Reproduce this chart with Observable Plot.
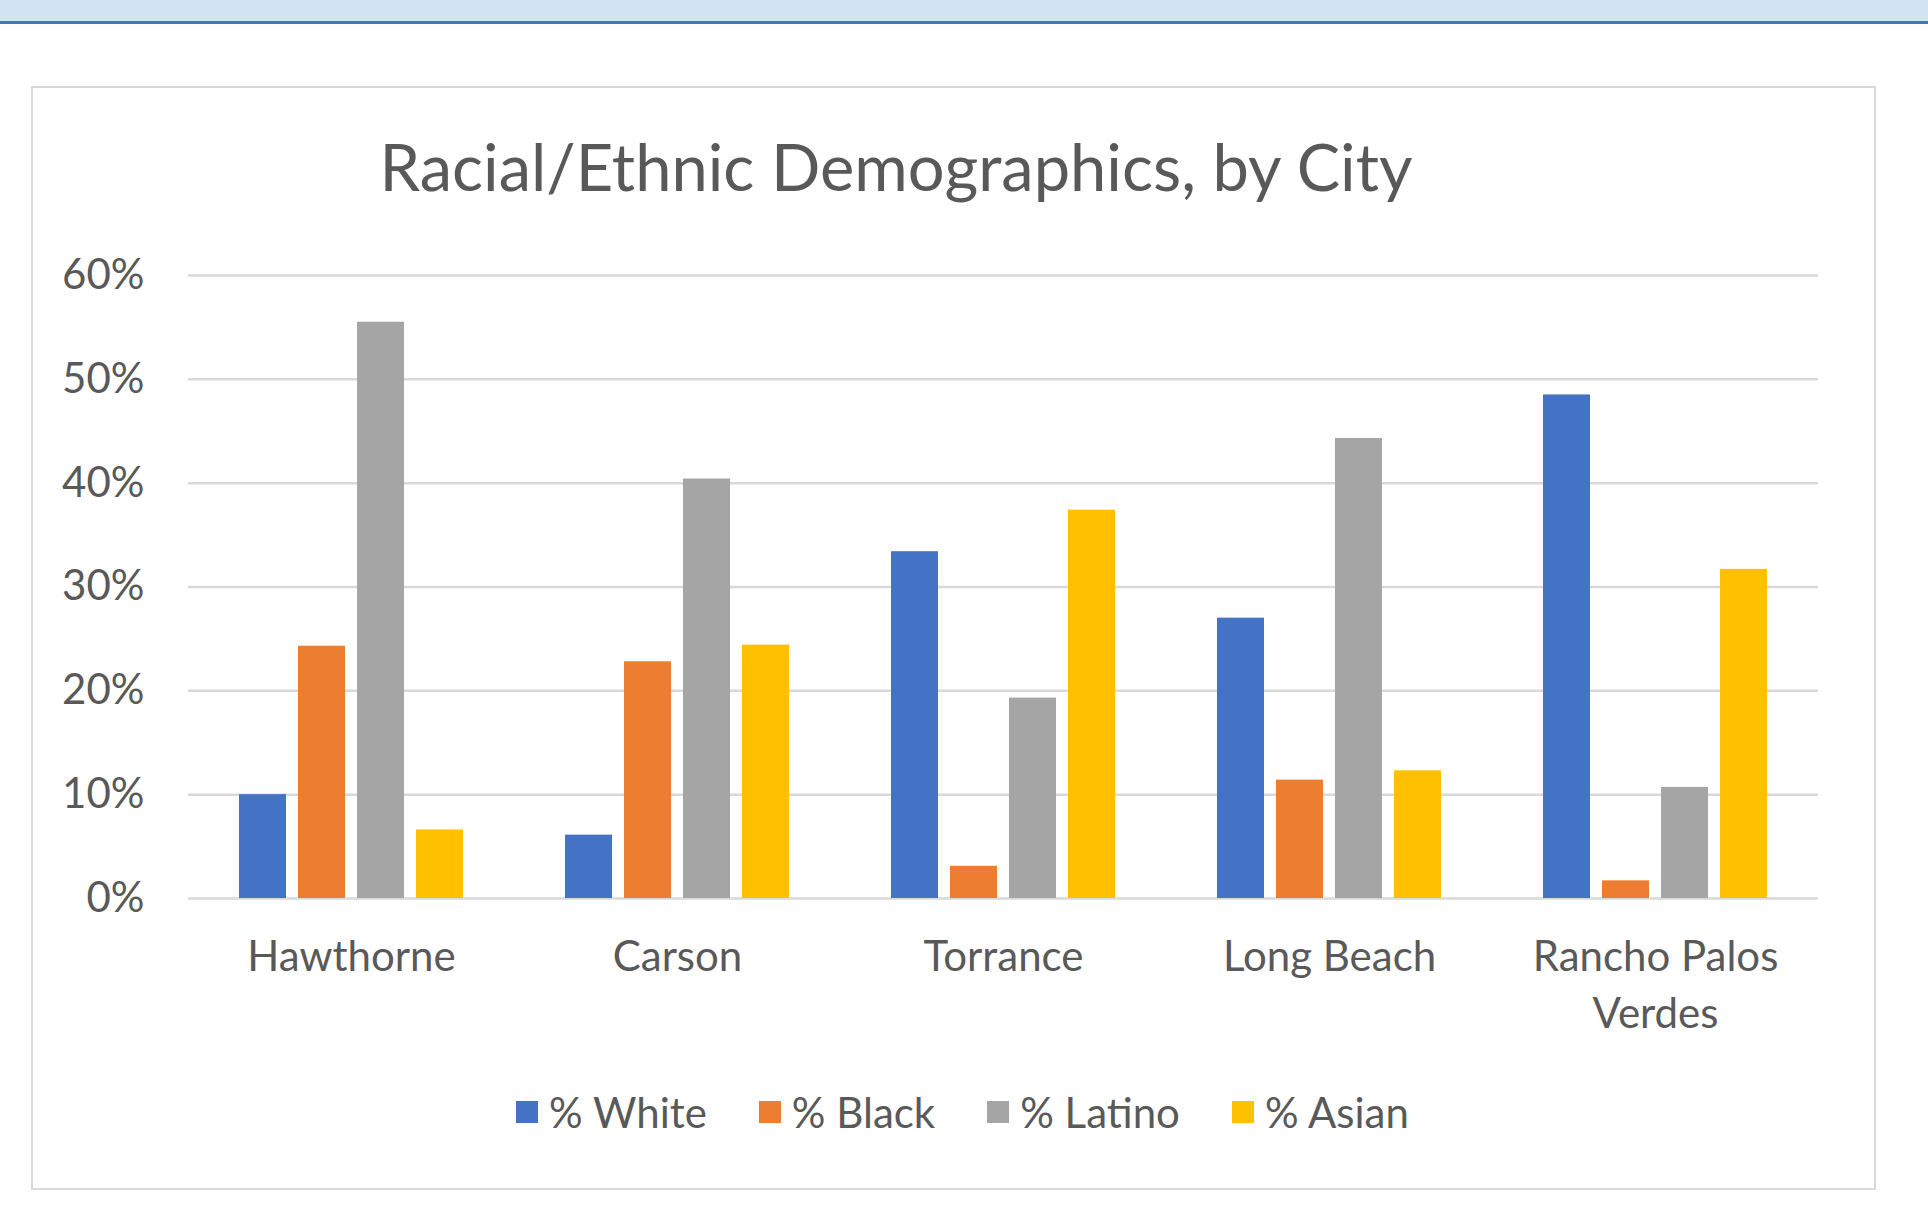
<!DOCTYPE html>
<html>
<head>
<meta charset="utf-8">
<script src="https://cdn.jsdelivr.net/npm/d3@7"></script>
<script src="https://cdn.jsdelivr.net/npm/@observablehq/plot@0.6"></script>
<style>
  html, body { margin: 0; padding: 0; background: #fff; width: 1928px; height: 1225px; overflow: hidden; }
  body { position: relative; font-family: Lato, "Open Sans", sans-serif; color: #595959; }
  #band { position: absolute; left: 0; top: 0; width: 1928px; height: 21px; background: #d0e4f2; border-bottom: 3px solid #4472c4; }
  #frame { position: absolute; left: 31px; top: 86px; width: 1841px; height: 1100px; border: 2px solid #d9d9d9; box-sizing: content-box; }
  #title { position: absolute; left: 0; width: 1792px; top: 134px; text-align: center; font-size: 65px; line-height: 65px; white-space: nowrap; }
  #chart { position: absolute; left: 0; top: 230px; }
  #legend { position: absolute; left: 40px; width: 1845px; top: 1091px; display: flex; justify-content: center; align-items: center; font-size: 42px; line-height: 42px; }
  .item { display: flex; align-items: center; margin: 0 26px; }
  .sw { width: 22px; height: 22px; margin-right: 11px; }
</style>
</head>
<body>
<div id="band"></div>
<div id="frame"></div>
<div id="title">Racial/Ethnic Demographics, by City</div>
<div id="chart"></div>
<div id="legend"></div>
<script>
const cities = ["Hawthorne", "Carson", "Torrance", "Long Beach", "Rancho Palos Verdes"];
const cityLabels = ["Hawthorne", "Carson", "Torrance", "Long Beach", "Rancho Palos\nVerdes"];
const series = ["% White", "% Black", "% Latino", "% Asian"];
const colors = ["#4472c4", "#ed7d31", "#a5a5a5", "#ffc000"];
const white  = [0.100, 0.061, 0.334, 0.270, 0.485];
const black  = [0.243, 0.228, 0.031, 0.114, 0.017];
const latino = [0.555, 0.404, 0.193, 0.443, 0.107];
const asian  = [0.066, 0.244, 0.374, 0.123, 0.317];
const yTicks = [0, 0.1, 0.2, 0.3, 0.4, 0.5, 0.6];

const valuesBySeries = [white, black, latino, asian];
const rows = [];
cities.forEach((c, i) => series.forEach((s, j) => rows.push({city: c, series: s, value: valuesBySeries[j][i]})));

const plot = Plot.plot({
  width: 1928,
  height: 830,
  marginTop: 45,
  marginBottom: 162,
  marginLeft: 188,
  marginRight: 110,
  style: {fontFamily: "Lato, 'Open Sans', sans-serif", fontSize: "42px", color: "#595959", background: "transparent"},
  fx: {domain: cities, padding: 0, axis: null, label: null},
  x: {domain: series, paddingInner: 0.203, paddingOuter: 0.863, axis: null, label: null},
  y: {domain: [0, 0.6], ticks: yTicks, tickFormat: d => Math.round(d * 100) + "%", tickSize: 0, tickPadding: 44, label: null},
  color: {domain: series, range: colors},
  marks: [
    Plot.ruleY(yTicks, {y: d => d, stroke: "#d9d9d9", strokeWidth: 2.5}),
    Plot.barY(rows, {fx: "city", x: "series", y: "value", fill: "series"}),
    Plot.text(cities, {fx: d => d, text: (d, i) => cityLabels[i], frameAnchor: "bottom", lineAnchor: "top", dy: 32, lineHeight: 1.36, fontSize: 42, fill: "#595959"})
  ]
});
document.getElementById("chart").appendChild(plot);

const legend = document.getElementById("legend");
series.forEach((s, j) => {
  const item = document.createElement("div");
  item.className = "item";
  const sw = document.createElement("div");
  sw.className = "sw";
  sw.style.background = colors[j];
  const lab = document.createElement("span");
  lab.textContent = s;
  item.appendChild(sw);
  item.appendChild(lab);
  legend.appendChild(item);
});
</script>
</body>
</html>
